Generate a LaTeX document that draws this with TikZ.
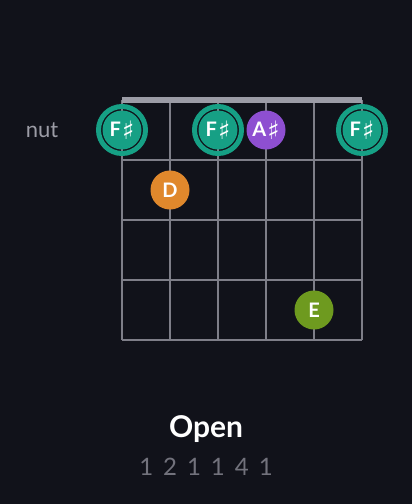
\documentclass[tikz,border=0pt]{standalone}
\usepackage{fontspec}
\setmainfont{Lato}
\newfontfamily\symfont{DejaVu Sans}
\definecolor{bgdark}{HTML}{11121A}
\definecolor{gridgrey}{HTML}{7E7E88}
\definecolor{nutgrey}{HTML}{9C9CA6}
\definecolor{fingergrey}{HTML}{72727C}
\definecolor{rootteal}{HTML}{16A085}
\definecolor{notepurple}{HTML}{8E4FD1}
\definecolor{noteorange}{HTML}{E0882C}
\definecolor{noteolive}{HTML}{6E9A1F}
\newcommand{\shp}{\hspace{1pt}\raisebox{-2pt}{\symfont\fontsize{19}{19}\selectfont\mdseries\char"266F}}
\tikzset{
  note/.style={circle,inner sep=0pt,minimum size=29.25pt,text=white,
    font=\fontsize{15}{16}\selectfont\bfseries},
  ring/.style={draw=rootteal,line width=3.75pt}
}
\begin{document}
\begin{tikzpicture}[x=0.75pt,y=-0.75pt]
\fill[bgdark] (0,0) rectangle (412,504);
\useasboundingbox (0,0) rectangle (412,504);
% strings and frets
\foreach \s in {0,...,5}
  \draw[gridgrey,line width=1pt] (122+48*\s,100) -- (122+48*\s,340);
\foreach \f in {1,...,4}
  \draw[gridgrey,line width=1pt] (122,100+60*\f) -- (362,100+60*\f);
\draw[nutgrey,line width=4pt] (122,100) -- (362,100);
\node[text=nutgrey,font=\fontsize{16.5}{18}\selectfont] (nut) at (42,130) {nut};
% notes
\draw[ring] (122,130) circle (23.5);
\draw[ring] (218,130) circle (23.5);
\draw[ring] (362,130) circle (23.5);
\node[note,fill=rootteal] (fs1) at (122,130) {F\shp};
\node[note,fill=rootteal] (fs4) at (218,130) {F\shp};
\node[note,fill=rootteal] (fs6) at (362,130) {F\shp};
\node[note,fill=notepurple] (as5) at (266,130) {A\shp};
\node[note,fill=noteorange] (d2) at (170,190) {D};
\node[note,fill=noteolive] (e5) at (314,310) {E};
% caption
\node[text=white,font=\fontsize{22.5}{24}\selectfont\bfseries] (name) at (206,429) {Open};
\node[text=fingergrey,font=\fontsize{18}{20}\selectfont\addfontfeature{LetterSpace=16}] (fingers) at (206,467) {1 2 1 1 4 1};
\end{tikzpicture}
\end{document}
